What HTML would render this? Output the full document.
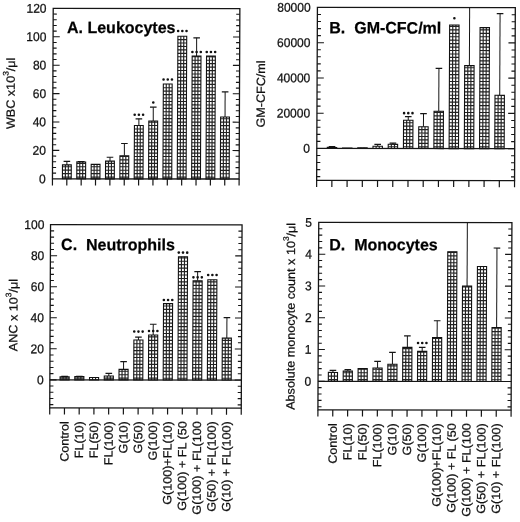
<!DOCTYPE html><html><head><meta charset="utf-8"><style>html,body{margin:0;padding:0;background:#fff;overflow:hidden;}svg{display:block;filter:grayscale(1) blur(0.3px);}text{font-family:"Liberation Sans",sans-serif;stroke:#111;stroke-width:0.25px;}</style></head><body>
<svg width="520" height="522" viewBox="0 0 520 522">
<rect width="520" height="522" fill="#fff"/>
<g transform="matrix(1,0.001,-0.0044,1,1.15,-0.26)">
<g><path d="M66.46 165.08V161.53" stroke="#151515" stroke-width="1"/><path d="M63.16 161.53H69.76" stroke="#151515" stroke-width="1.2"/><rect x="62.05" y="165.08" width="8.81" height="13.92" fill="#fff"/><path d="M80.82 162.1V161.68" stroke="#151515" stroke-width="1"/><path d="M77.52 161.68H84.12" stroke="#151515" stroke-width="1.2"/><rect x="76.41" y="162.1" width="8.81" height="16.9" fill="#fff"/><rect x="90.77" y="164.52" width="8.81" height="14.48" fill="#fff"/><path d="M109.53 161.25V157.42" stroke="#151515" stroke-width="1"/><path d="M106.23 157.42H112.83" stroke="#151515" stroke-width="1.2"/><rect x="105.13" y="161.25" width="8.81" height="17.75" fill="#fff"/><path d="M123.89 155.85V143.64" stroke="#151515" stroke-width="1"/><path d="M120.59 143.64H127.19" stroke="#151515" stroke-width="1.2"/><rect x="119.49" y="155.85" width="8.81" height="23.15" fill="#fff"/><path d="M138.25 125.61V118.93" stroke="#151515" stroke-width="1"/><path d="M134.95 118.93H141.55" stroke="#151515" stroke-width="1.2"/><rect x="133.84" y="125.61" width="8.81" height="53.39" fill="#fff"/><circle cx="134.05" cy="114.9" r="1.3" fill="#111"/><circle cx="138.25" cy="114.9" r="1.3" fill="#111"/><circle cx="142.45" cy="114.9" r="1.3" fill="#111"/><path d="M152.6 121.06V107.29" stroke="#151515" stroke-width="1"/><path d="M149.3 107.29H155.9" stroke="#151515" stroke-width="1.2"/><rect x="148.2" y="121.06" width="8.81" height="57.94" fill="#fff"/><circle cx="152.6" cy="102.6" r="1.3" fill="#111"/><rect x="162.56" y="84.14" width="8.81" height="94.86" fill="#fff"/><circle cx="162.76" cy="79.6" r="1.3" fill="#111"/><circle cx="166.96" cy="79.6" r="1.3" fill="#111"/><circle cx="171.16" cy="79.6" r="1.3" fill="#111"/><rect x="176.92" y="36.29" width="8.81" height="142.71" fill="#fff"/><circle cx="177.12" cy="31.1" r="1.3" fill="#111"/><circle cx="181.32" cy="31.1" r="1.3" fill="#111"/><circle cx="185.52" cy="31.1" r="1.3" fill="#111"/><path d="M195.68 56.17V37.85" stroke="#151515" stroke-width="1"/><path d="M192.38 37.85H198.98" stroke="#151515" stroke-width="1.2"/><rect x="191.27" y="56.17" width="8.81" height="122.83" fill="#fff"/><circle cx="191.48" cy="52.1" r="1.3" fill="#111"/><circle cx="195.68" cy="52.1" r="1.3" fill="#111"/><circle cx="199.88" cy="52.1" r="1.3" fill="#111"/><rect x="205.63" y="56.17" width="8.81" height="122.83" fill="#fff"/><circle cx="205.83" cy="52.1" r="1.3" fill="#111"/><circle cx="210.03" cy="52.1" r="1.3" fill="#111"/><circle cx="214.23" cy="52.1" r="1.3" fill="#111"/><path d="M224.39 117.09V91.95" stroke="#151515" stroke-width="1"/><path d="M221.09 91.95H227.69" stroke="#151515" stroke-width="1.2"/><rect x="219.99" y="117.09" width="8.81" height="61.91" fill="#fff"/><path d="M64.99 165.08V179M67.93 165.08V179M62.05 177.25H70.86M62.05 173.81H70.86M62.05 170.37H70.86M62.05 166.93H70.86M79.35 162.1V179M82.28 162.1V179M76.41 177.25H85.22M76.41 173.81H85.22M76.41 170.37H85.22M76.41 166.93H85.22M76.41 163.49H85.22M93.71 164.52V179M96.64 164.52V179M90.77 177.25H99.58M90.77 173.81H99.58M90.77 170.37H99.58M90.77 166.93H99.58M108.06 161.25V179M111 161.25V179M105.13 177.25H113.93M105.13 173.81H113.93M105.13 170.37H113.93M105.13 166.93H113.93M105.13 163.49H113.93M122.42 155.85V179M125.36 155.85V179M119.49 177.25H128.29M119.49 173.81H128.29M119.49 170.37H128.29M119.49 166.93H128.29M119.49 163.49H128.29M119.49 160.05H128.29M119.49 156.61H128.29M136.78 125.61V179M139.71 125.61V179M133.84 177.25H142.65M133.84 173.81H142.65M133.84 170.37H142.65M133.84 166.93H142.65M133.84 163.49H142.65M133.84 160.05H142.65M133.84 156.61H142.65M133.84 153.17H142.65M133.84 149.73H142.65M133.84 146.29H142.65M133.84 142.85H142.65M133.84 139.41H142.65M133.84 135.97H142.65M133.84 132.53H142.65M133.84 129.09H142.65M151.14 121.06V179M154.07 121.06V179M148.2 177.25H157.01M148.2 173.81H157.01M148.2 170.37H157.01M148.2 166.93H157.01M148.2 163.49H157.01M148.2 160.05H157.01M148.2 156.61H157.01M148.2 153.17H157.01M148.2 149.73H157.01M148.2 146.29H157.01M148.2 142.85H157.01M148.2 139.41H157.01M148.2 135.97H157.01M148.2 132.53H157.01M148.2 129.09H157.01M148.2 125.65H157.01M148.2 122.21H157.01M165.49 84.14V179M168.43 84.14V179M162.56 177.25H171.36M162.56 173.81H171.36M162.56 170.37H171.36M162.56 166.93H171.36M162.56 163.49H171.36M162.56 160.05H171.36M162.56 156.61H171.36M162.56 153.17H171.36M162.56 149.73H171.36M162.56 146.29H171.36M162.56 142.85H171.36M162.56 139.41H171.36M162.56 135.97H171.36M162.56 132.53H171.36M162.56 129.09H171.36M162.56 125.65H171.36M162.56 122.21H171.36M162.56 118.77H171.36M162.56 115.33H171.36M162.56 111.89H171.36M162.56 108.45H171.36M162.56 105.01H171.36M162.56 101.57H171.36M162.56 98.13H171.36M162.56 94.69H171.36M162.56 91.25H171.36M162.56 87.81H171.36M179.85 36.29V179M182.79 36.29V179M176.92 177.25H185.72M176.92 173.81H185.72M176.92 170.37H185.72M176.92 166.93H185.72M176.92 163.49H185.72M176.92 160.05H185.72M176.92 156.61H185.72M176.92 153.17H185.72M176.92 149.73H185.72M176.92 146.29H185.72M176.92 142.85H185.72M176.92 139.41H185.72M176.92 135.97H185.72M176.92 132.53H185.72M176.92 129.09H185.72M176.92 125.65H185.72M176.92 122.21H185.72M176.92 118.77H185.72M176.92 115.33H185.72M176.92 111.89H185.72M176.92 108.45H185.72M176.92 105.01H185.72M176.92 101.57H185.72M176.92 98.13H185.72M176.92 94.69H185.72M176.92 91.25H185.72M176.92 87.81H185.72M176.92 84.37H185.72M176.92 80.93H185.72M176.92 77.49H185.72M176.92 74.05H185.72M176.92 70.61H185.72M176.92 67.17H185.72M176.92 63.73H185.72M176.92 60.29H185.72M176.92 56.85H185.72M176.92 53.41H185.72M176.92 49.97H185.72M176.92 46.53H185.72M176.92 43.09H185.72M176.92 39.65H185.72M194.21 56.17V179M197.14 56.17V179M191.27 177.25H200.08M191.27 173.81H200.08M191.27 170.37H200.08M191.27 166.93H200.08M191.27 163.49H200.08M191.27 160.05H200.08M191.27 156.61H200.08M191.27 153.17H200.08M191.27 149.73H200.08M191.27 146.29H200.08M191.27 142.85H200.08M191.27 139.41H200.08M191.27 135.97H200.08M191.27 132.53H200.08M191.27 129.09H200.08M191.27 125.65H200.08M191.27 122.21H200.08M191.27 118.77H200.08M191.27 115.33H200.08M191.27 111.89H200.08M191.27 108.45H200.08M191.27 105.01H200.08M191.27 101.57H200.08M191.27 98.13H200.08M191.27 94.69H200.08M191.27 91.25H200.08M191.27 87.81H200.08M191.27 84.37H200.08M191.27 80.93H200.08M191.27 77.49H200.08M191.27 74.05H200.08M191.27 70.61H200.08M191.27 67.17H200.08M191.27 63.73H200.08M191.27 60.29H200.08M191.27 56.85H200.08M208.57 56.17V179M211.5 56.17V179M205.63 177.25H214.44M205.63 173.81H214.44M205.63 170.37H214.44M205.63 166.93H214.44M205.63 163.49H214.44M205.63 160.05H214.44M205.63 156.61H214.44M205.63 153.17H214.44M205.63 149.73H214.44M205.63 146.29H214.44M205.63 142.85H214.44M205.63 139.41H214.44M205.63 135.97H214.44M205.63 132.53H214.44M205.63 129.09H214.44M205.63 125.65H214.44M205.63 122.21H214.44M205.63 118.77H214.44M205.63 115.33H214.44M205.63 111.89H214.44M205.63 108.45H214.44M205.63 105.01H214.44M205.63 101.57H214.44M205.63 98.13H214.44M205.63 94.69H214.44M205.63 91.25H214.44M205.63 87.81H214.44M205.63 84.37H214.44M205.63 80.93H214.44M205.63 77.49H214.44M205.63 74.05H214.44M205.63 70.61H214.44M205.63 67.17H214.44M205.63 63.73H214.44M205.63 60.29H214.44M205.63 56.85H214.44M222.92 117.09V179M225.86 117.09V179M219.99 177.25H228.8M219.99 173.81H228.8M219.99 170.37H228.8M219.99 166.93H228.8M219.99 163.49H228.8M219.99 160.05H228.8M219.99 156.61H228.8M219.99 153.17H228.8M219.99 149.73H228.8M219.99 146.29H228.8M219.99 142.85H228.8M219.99 139.41H228.8M219.99 135.97H228.8M219.99 132.53H228.8M219.99 129.09H228.8M219.99 125.65H228.8M219.99 122.21H228.8M219.99 118.77H228.8" stroke="#222" stroke-width="1.15" fill="none"/><rect x="62.05" y="165.08" width="8.81" height="13.92" fill="none" stroke="#111" stroke-width="1.1"/><rect x="76.41" y="162.1" width="8.81" height="16.9" fill="none" stroke="#111" stroke-width="1.1"/><rect x="90.77" y="164.52" width="8.81" height="14.48" fill="none" stroke="#111" stroke-width="1.1"/><rect x="105.13" y="161.25" width="8.81" height="17.75" fill="none" stroke="#111" stroke-width="1.1"/><rect x="119.49" y="155.85" width="8.81" height="23.15" fill="none" stroke="#111" stroke-width="1.1"/><rect x="133.84" y="125.61" width="8.81" height="53.39" fill="none" stroke="#111" stroke-width="1.1"/><rect x="148.2" y="121.06" width="8.81" height="57.94" fill="none" stroke="#111" stroke-width="1.1"/><rect x="162.56" y="84.14" width="8.81" height="94.86" fill="none" stroke="#111" stroke-width="1.1"/><rect x="176.92" y="36.29" width="8.81" height="142.71" fill="none" stroke="#111" stroke-width="1.1"/><rect x="191.27" y="56.17" width="8.81" height="122.83" fill="none" stroke="#111" stroke-width="1.1"/><rect x="205.63" y="56.17" width="8.81" height="122.83" fill="none" stroke="#111" stroke-width="1.1"/><rect x="219.99" y="117.09" width="8.81" height="61.91" fill="none" stroke="#111" stroke-width="1.1"/><rect x="52.1" y="8.6" width="186.65" height="170.4" fill="none" stroke="#151515" stroke-width="1.3"/><path d="M52.1 179V185.6M66.46 179V185.6M80.82 179V185.6M95.17 179V185.6M109.53 179V185.6M123.89 179V185.6M138.25 179V185.6M152.6 179V185.6M166.96 179V185.6M181.32 179V185.6M195.68 179V185.6M210.03 179V185.6M224.39 179V185.6M238.75 179V185.6M238.75 179V185.6" stroke="#151515" stroke-width="1.2"/><path d="M52.1 173.32H55.7M238.75 173.32H235.15M52.1 167.64H55.7M238.75 167.64H235.15M52.1 161.96H55.7M238.75 161.96H235.15M52.1 156.28H55.7M238.75 156.28H235.15M52.1 150.6H58.8M238.75 150.6H232.05M52.1 144.92H55.7M238.75 144.92H235.15M52.1 139.24H55.7M238.75 139.24H235.15M52.1 133.56H55.7M238.75 133.56H235.15M52.1 127.88H55.7M238.75 127.88H235.15M52.1 122.2H58.8M238.75 122.2H232.05M52.1 116.52H55.7M238.75 116.52H235.15M52.1 110.84H55.7M238.75 110.84H235.15M52.1 105.16H55.7M238.75 105.16H235.15M52.1 99.48H55.7M238.75 99.48H235.15M52.1 93.8H58.8M238.75 93.8H232.05M52.1 88.12H55.7M238.75 88.12H235.15M52.1 82.44H55.7M238.75 82.44H235.15M52.1 76.76H55.7M238.75 76.76H235.15M52.1 71.08H55.7M238.75 71.08H235.15M52.1 65.4H58.8M238.75 65.4H232.05M52.1 59.72H55.7M238.75 59.72H235.15M52.1 54.04H55.7M238.75 54.04H235.15M52.1 48.36H55.7M238.75 48.36H235.15M52.1 42.68H55.7M238.75 42.68H235.15M52.1 37H58.8M238.75 37H232.05M52.1 31.32H55.7M238.75 31.32H235.15M52.1 25.64H55.7M238.75 25.64H235.15M52.1 19.96H55.7M238.75 19.96H235.15M52.1 14.28H55.7M238.75 14.28H235.15" stroke="#151515" stroke-width="1.1"/><text transform="translate(45.4,183.35) scale(1,1.05)" text-anchor="end" font-size="12" fill="#111">0</text><text transform="translate(45.4,154.95) scale(1,1.05)" text-anchor="end" font-size="12" fill="#111">20</text><text transform="translate(45.4,126.55) scale(1,1.05)" text-anchor="end" font-size="12" fill="#111">40</text><text transform="translate(45.4,98.15) scale(1,1.05)" text-anchor="end" font-size="12" fill="#111">60</text><text transform="translate(45.4,69.75) scale(1,1.05)" text-anchor="end" font-size="12" fill="#111">80</text><text transform="translate(45.4,41.35) scale(1,1.05)" text-anchor="end" font-size="12" fill="#111">100</text><text transform="translate(45.4,12.95) scale(1,1.05)" text-anchor="end" font-size="12" fill="#111">120</text><text transform="translate(66,33.09) scale(1,1.02)" font-size="16" font-weight="bold" fill="#000" stroke="none" xml:space="preserve">A. Leukocytes</text><text transform="translate(14.06,93.6) rotate(-90) scale(1.05,1)" text-anchor="middle" font-size="12" fill="#111">WBC x10<tspan font-size="8" dy="-6.3">3</tspan><tspan dy="6.3">/μl</tspan></text></g>
<g><path d="M331.52 147.35V146.65" stroke="#151515" stroke-width="1"/><path d="M328.22 146.65H334.82" stroke="#151515" stroke-width="1.2"/><rect x="326.82" y="147.35" width="9.4" height="1.05" fill="#fff"/><rect x="342.04" y="148.05" width="9.4" height="0.35" fill="#fff"/><rect x="357.27" y="147.7" width="9.4" height="0.7" fill="#fff"/><path d="M377.19 146.12V144.19" stroke="#151515" stroke-width="1"/><path d="M373.89 144.19H380.49" stroke="#151515" stroke-width="1.2"/><rect x="372.49" y="146.12" width="9.4" height="2.28" fill="#fff"/><path d="M392.42 144.19V142.96" stroke="#151515" stroke-width="1"/><path d="M389.12 142.96H395.72" stroke="#151515" stroke-width="1.2"/><rect x="387.71" y="144.19" width="9.4" height="4.21" fill="#fff"/><path d="M407.64 120.17V116.48" stroke="#151515" stroke-width="1"/><path d="M404.34 116.48H410.94" stroke="#151515" stroke-width="1.2"/><rect x="402.94" y="120.17" width="9.4" height="28.23" fill="#fff"/><circle cx="403.44" cy="113" r="1.3" fill="#111"/><circle cx="407.64" cy="113" r="1.3" fill="#111"/><circle cx="411.84" cy="113" r="1.3" fill="#111"/><path d="M422.86 126.65V113.5" stroke="#151515" stroke-width="1"/><path d="M419.56 113.5H426.16" stroke="#151515" stroke-width="1.2"/><rect x="418.16" y="126.65" width="9.4" height="21.75" fill="#fff"/><path d="M438.08 111.05V68.26" stroke="#151515" stroke-width="1"/><path d="M434.78 68.26H441.38" stroke="#151515" stroke-width="1.2"/><rect x="433.38" y="111.05" width="9.4" height="37.35" fill="#fff"/><rect x="448.61" y="24.77" width="9.4" height="123.63" fill="#fff"/><circle cx="453.31" cy="18" r="1.3" fill="#111"/><path d="M468.53 65.45V7.4" stroke="#151515" stroke-width="1"/><rect x="463.83" y="65.45" width="9.4" height="82.95" fill="#fff"/><rect x="479.05" y="27.4" width="9.4" height="121" fill="#fff"/><path d="M498.98 95.09V13.37" stroke="#151515" stroke-width="1"/><path d="M495.68 13.37H502.28" stroke="#151515" stroke-width="1.2"/><rect x="494.27" y="95.09" width="9.4" height="53.31" fill="#fff"/><path d="M329.96 147.35V148.4M333.09 147.35V148.4M345.18 148.05V148.4M348.31 148.05V148.4M360.4 147.7V148.4M363.54 147.7V148.4M375.62 146.12V148.4M378.76 146.12V148.4M390.85 144.19V148.4M393.98 144.19V148.4M387.71 146.65H397.12M406.07 120.17V148.4M409.21 120.17V148.4M402.94 146.65H412.34M402.94 143.21H412.34M402.94 139.77H412.34M402.94 136.33H412.34M402.94 132.89H412.34M402.94 129.45H412.34M402.94 126.01H412.34M402.94 122.57H412.34M421.29 126.65V148.4M424.43 126.65V148.4M418.16 146.65H427.56M418.16 143.21H427.56M418.16 139.77H427.56M418.16 136.33H427.56M418.16 132.89H427.56M418.16 129.45H427.56M436.52 111.05V148.4M439.65 111.05V148.4M433.38 146.65H442.79M433.38 143.21H442.79M433.38 139.77H442.79M433.38 136.33H442.79M433.38 132.89H442.79M433.38 129.45H442.79M433.38 126.01H442.79M433.38 122.57H442.79M433.38 119.13H442.79M433.38 115.69H442.79M433.38 112.25H442.79M451.74 24.77V148.4M454.88 24.77V148.4M448.61 146.65H458.01M448.61 143.21H458.01M448.61 139.77H458.01M448.61 136.33H458.01M448.61 132.89H458.01M448.61 129.45H458.01M448.61 126.01H458.01M448.61 122.57H458.01M448.61 119.13H458.01M448.61 115.69H458.01M448.61 112.25H458.01M448.61 108.81H458.01M448.61 105.37H458.01M448.61 101.93H458.01M448.61 98.49H458.01M448.61 95.05H458.01M448.61 91.61H458.01M448.61 88.17H458.01M448.61 84.73H458.01M448.61 81.29H458.01M448.61 77.85H458.01M448.61 74.41H458.01M448.61 70.97H458.01M448.61 67.53H458.01M448.61 64.09H458.01M448.61 60.65H458.01M448.61 57.21H458.01M448.61 53.77H458.01M448.61 50.33H458.01M448.61 46.89H458.01M448.61 43.45H458.01M448.61 40.01H458.01M448.61 36.57H458.01M448.61 33.13H458.01M448.61 29.69H458.01M448.61 26.25H458.01M466.96 65.45V148.4M470.1 65.45V148.4M463.83 146.65H473.23M463.83 143.21H473.23M463.83 139.77H473.23M463.83 136.33H473.23M463.83 132.89H473.23M463.83 129.45H473.23M463.83 126.01H473.23M463.83 122.57H473.23M463.83 119.13H473.23M463.83 115.69H473.23M463.83 112.25H473.23M463.83 108.81H473.23M463.83 105.37H473.23M463.83 101.93H473.23M463.83 98.49H473.23M463.83 95.05H473.23M463.83 91.61H473.23M463.83 88.17H473.23M463.83 84.73H473.23M463.83 81.29H473.23M463.83 77.85H473.23M463.83 74.41H473.23M463.83 70.97H473.23M463.83 67.53H473.23M482.19 27.4V148.4M485.32 27.4V148.4M479.05 146.65H488.46M479.05 143.21H488.46M479.05 139.77H488.46M479.05 136.33H488.46M479.05 132.89H488.46M479.05 129.45H488.46M479.05 126.01H488.46M479.05 122.57H488.46M479.05 119.13H488.46M479.05 115.69H488.46M479.05 112.25H488.46M479.05 108.81H488.46M479.05 105.37H488.46M479.05 101.93H488.46M479.05 98.49H488.46M479.05 95.05H488.46M479.05 91.61H488.46M479.05 88.17H488.46M479.05 84.73H488.46M479.05 81.29H488.46M479.05 77.85H488.46M479.05 74.41H488.46M479.05 70.97H488.46M479.05 67.53H488.46M479.05 64.09H488.46M479.05 60.65H488.46M479.05 57.21H488.46M479.05 53.77H488.46M479.05 50.33H488.46M479.05 46.89H488.46M479.05 43.45H488.46M479.05 40.01H488.46M479.05 36.57H488.46M479.05 33.13H488.46M479.05 29.69H488.46M497.41 95.09V148.4M500.54 95.09V148.4M494.27 146.65H503.68M494.27 143.21H503.68M494.27 139.77H503.68M494.27 136.33H503.68M494.27 132.89H503.68M494.27 129.45H503.68M494.27 126.01H503.68M494.27 122.57H503.68M494.27 119.13H503.68M494.27 115.69H503.68M494.27 112.25H503.68M494.27 108.81H503.68M494.27 105.37H503.68M494.27 101.93H503.68M494.27 98.49H503.68" stroke="#222" stroke-width="1.15" fill="none"/><rect x="326.82" y="147.35" width="9.4" height="1.05" fill="none" stroke="#111" stroke-width="1.1"/><rect x="342.04" y="148.05" width="9.4" height="0.35" fill="none" stroke="#111" stroke-width="1.1"/><rect x="357.27" y="147.7" width="9.4" height="0.7" fill="none" stroke="#111" stroke-width="1.1"/><rect x="372.49" y="146.12" width="9.4" height="2.28" fill="none" stroke="#111" stroke-width="1.1"/><rect x="387.71" y="144.19" width="9.4" height="4.21" fill="none" stroke="#111" stroke-width="1.1"/><rect x="402.94" y="120.17" width="9.4" height="28.23" fill="none" stroke="#111" stroke-width="1.1"/><rect x="418.16" y="126.65" width="9.4" height="21.75" fill="none" stroke="#111" stroke-width="1.1"/><rect x="433.38" y="111.05" width="9.4" height="37.35" fill="none" stroke="#111" stroke-width="1.1"/><rect x="448.61" y="24.77" width="9.4" height="123.63" fill="none" stroke="#111" stroke-width="1.1"/><rect x="463.83" y="65.45" width="9.4" height="82.95" fill="none" stroke="#111" stroke-width="1.1"/><rect x="479.05" y="27.4" width="9.4" height="121" fill="none" stroke="#111" stroke-width="1.1"/><rect x="494.27" y="95.09" width="9.4" height="53.31" fill="none" stroke="#111" stroke-width="1.1"/><rect x="316.3" y="7.4" width="197.9" height="172.9" fill="none" stroke="#151515" stroke-width="1.3"/><path d="M316.3 148.4H514.2" stroke="#151515" stroke-width="1.2"/><path d="M316.3 180.3V186.9M331.52 180.3V186.9M346.75 180.3V186.9M361.97 180.3V186.9M377.19 180.3V186.9M392.42 180.3V186.9M407.64 180.3V186.9M422.86 180.3V186.9M438.08 180.3V186.9M453.31 180.3V186.9M468.53 180.3V186.9M483.75 180.3V186.9M498.98 180.3V186.9M514.2 180.3V186.9M514.2 180.3V186.9" stroke="#151515" stroke-width="1.2"/><path d="M316.3 176.6H319.9M514.2 176.6H510.6M316.3 169.55H319.9M514.2 169.55H510.6M316.3 162.5H319.9M514.2 162.5H510.6M316.3 155.45H319.9M514.2 155.45H510.6M316.3 148.4H323M514.2 148.4H507.5M316.3 141.35H319.9M514.2 141.35H510.6M316.3 134.3H319.9M514.2 134.3H510.6M316.3 127.25H319.9M514.2 127.25H510.6M316.3 120.2H319.9M514.2 120.2H510.6M316.3 113.15H323M514.2 113.15H507.5M316.3 106.1H319.9M514.2 106.1H510.6M316.3 99.05H319.9M514.2 99.05H510.6M316.3 92H319.9M514.2 92H510.6M316.3 84.95H319.9M514.2 84.95H510.6M316.3 77.9H323M514.2 77.9H507.5M316.3 70.85H319.9M514.2 70.85H510.6M316.3 63.8H319.9M514.2 63.8H510.6M316.3 56.75H319.9M514.2 56.75H510.6M316.3 49.7H319.9M514.2 49.7H510.6M316.3 42.65H323M514.2 42.65H507.5M316.3 35.6H319.9M514.2 35.6H510.6M316.3 28.55H319.9M514.2 28.55H510.6M316.3 21.5H319.9M514.2 21.5H510.6M316.3 14.45H319.9M514.2 14.45H510.6" stroke="#151515" stroke-width="1.1"/><text transform="translate(309.5,152.75) scale(1,1.05)" text-anchor="end" font-size="12" fill="#111">0</text><text transform="translate(309.5,117.5) scale(1,1.05)" text-anchor="end" font-size="12" fill="#111">20000</text><text transform="translate(309.5,82.25) scale(1,1.05)" text-anchor="end" font-size="12" fill="#111">40000</text><text transform="translate(309.5,47) scale(1,1.05)" text-anchor="end" font-size="12" fill="#111">60000</text><text transform="translate(309.5,11.75) scale(1,1.05)" text-anchor="end" font-size="12" fill="#111">80000</text><text transform="translate(328.3,33.23) scale(1,1.02)" font-size="16" font-weight="bold" fill="#000" stroke="none" xml:space="preserve">B.  GM-CFC/ml</text><text transform="translate(264.16,93.95) rotate(-90) scale(1.05,1)" text-anchor="middle" font-size="12" fill="#111">GM-CFC/ml</text></g>
<g><path d="M65.11 377.1V376.48" stroke="#151515" stroke-width="1"/><path d="M61.81 376.48H68.41" stroke="#151515" stroke-width="1.2"/><rect x="60.58" y="377.1" width="9.07" height="2.95" fill="#fff"/><path d="M79.84 376.79V376.48" stroke="#151515" stroke-width="1"/><path d="M76.54 376.48H83.14" stroke="#151515" stroke-width="1.2"/><rect x="75.31" y="376.79" width="9.07" height="3.26" fill="#fff"/><rect x="90.04" y="377.72" width="9.07" height="2.33" fill="#fff"/><path d="M109.31 376.17V373.53" stroke="#151515" stroke-width="1"/><path d="M106.01 373.53H112.61" stroke="#151515" stroke-width="1.2"/><rect x="104.78" y="376.17" width="9.07" height="3.88" fill="#fff"/><path d="M124.04 369.5V361.74" stroke="#151515" stroke-width="1"/><path d="M120.74 361.74H127.34" stroke="#151515" stroke-width="1.2"/><rect x="119.51" y="369.5" width="9.07" height="10.55" fill="#fff"/><path d="M138.77 340.18V337.23" stroke="#151515" stroke-width="1"/><path d="M135.47 337.23H142.07" stroke="#151515" stroke-width="1.2"/><rect x="134.24" y="340.18" width="9.07" height="39.87" fill="#fff"/><circle cx="134.57" cy="331.7" r="1.3" fill="#111"/><circle cx="138.77" cy="331.7" r="1.3" fill="#111"/><circle cx="142.97" cy="331.7" r="1.3" fill="#111"/><path d="M153.51 335.06V324.35" stroke="#151515" stroke-width="1"/><path d="M150.21 324.35H156.81" stroke="#151515" stroke-width="1.2"/><rect x="148.97" y="335.06" width="9.07" height="44.99" fill="#fff"/><circle cx="149.31" cy="331.1" r="1.3" fill="#111"/><circle cx="153.51" cy="331.1" r="1.3" fill="#111"/><circle cx="157.71" cy="331.1" r="1.3" fill="#111"/><rect x="163.71" y="303.72" width="9.07" height="76.33" fill="#fff"/><circle cx="164.04" cy="300.1" r="1.3" fill="#111"/><circle cx="168.24" cy="300.1" r="1.3" fill="#111"/><circle cx="172.44" cy="300.1" r="1.3" fill="#111"/><rect x="178.44" y="256.86" width="9.07" height="123.19" fill="#fff"/><circle cx="178.77" cy="252.7" r="1.3" fill="#111"/><circle cx="182.97" cy="252.7" r="1.3" fill="#111"/><circle cx="187.17" cy="252.7" r="1.3" fill="#111"/><path d="M197.7 280.91V271.6" stroke="#151515" stroke-width="1"/><path d="M194.4 271.6H201" stroke="#151515" stroke-width="1.2"/><rect x="193.17" y="280.91" width="9.07" height="99.14" fill="#fff"/><circle cx="193.5" cy="277.4" r="1.3" fill="#111"/><circle cx="197.7" cy="277.4" r="1.3" fill="#111"/><circle cx="201.9" cy="277.4" r="1.3" fill="#111"/><rect x="207.9" y="279.82" width="9.07" height="100.23" fill="#fff"/><circle cx="208.24" cy="275" r="1.3" fill="#111"/><circle cx="212.44" cy="275" r="1.3" fill="#111"/><circle cx="216.64" cy="275" r="1.3" fill="#111"/><path d="M227.17 338.16V317.68" stroke="#151515" stroke-width="1"/><path d="M223.87 317.68H230.47" stroke="#151515" stroke-width="1.2"/><rect x="222.64" y="338.16" width="9.07" height="41.89" fill="#fff"/><path d="M63.6 377.1V380.05M66.62 377.1V380.05M60.58 378.3H69.64M78.33 376.79V380.05M81.36 376.79V380.05M75.31 378.3H84.38M93.07 377.72V380.05M96.09 377.72V380.05M107.8 376.17V380.05M110.82 376.17V380.05M104.78 378.3H113.84M122.53 369.5V380.05M125.55 369.5V380.05M119.51 378.3H128.57M119.51 374.86H128.57M119.51 371.42H128.57M137.26 340.18V380.05M140.28 340.18V380.05M134.24 378.3H143.31M134.24 374.86H143.31M134.24 371.42H143.31M134.24 367.98H143.31M134.24 364.54H143.31M134.24 361.1H143.31M134.24 357.66H143.31M134.24 354.22H143.31M134.24 350.78H143.31M134.24 347.34H143.31M134.24 343.9H143.31M152 335.06V380.05M155.02 335.06V380.05M148.97 378.3H158.04M148.97 374.86H158.04M148.97 371.42H158.04M148.97 367.98H158.04M148.97 364.54H158.04M148.97 361.1H158.04M148.97 357.66H158.04M148.97 354.22H158.04M148.97 350.78H158.04M148.97 347.34H158.04M148.97 343.9H158.04M148.97 340.46H158.04M148.97 337.02H158.04M166.73 303.72V380.05M169.75 303.72V380.05M163.71 378.3H172.77M163.71 374.86H172.77M163.71 371.42H172.77M163.71 367.98H172.77M163.71 364.54H172.77M163.71 361.1H172.77M163.71 357.66H172.77M163.71 354.22H172.77M163.71 350.78H172.77M163.71 347.34H172.77M163.71 343.9H172.77M163.71 340.46H172.77M163.71 337.02H172.77M163.71 333.58H172.77M163.71 330.14H172.77M163.71 326.7H172.77M163.71 323.26H172.77M163.71 319.82H172.77M163.71 316.38H172.77M163.71 312.94H172.77M163.71 309.5H172.77M163.71 306.06H172.77M181.46 256.86V380.05M184.48 256.86V380.05M178.44 378.3H187.5M178.44 374.86H187.5M178.44 371.42H187.5M178.44 367.98H187.5M178.44 364.54H187.5M178.44 361.1H187.5M178.44 357.66H187.5M178.44 354.22H187.5M178.44 350.78H187.5M178.44 347.34H187.5M178.44 343.9H187.5M178.44 340.46H187.5M178.44 337.02H187.5M178.44 333.58H187.5M178.44 330.14H187.5M178.44 326.7H187.5M178.44 323.26H187.5M178.44 319.82H187.5M178.44 316.38H187.5M178.44 312.94H187.5M178.44 309.5H187.5M178.44 306.06H187.5M178.44 302.62H187.5M178.44 299.18H187.5M178.44 295.74H187.5M178.44 292.3H187.5M178.44 288.86H187.5M178.44 285.42H187.5M178.44 281.98H187.5M178.44 278.54H187.5M178.44 275.1H187.5M178.44 271.66H187.5M178.44 268.22H187.5M178.44 264.78H187.5M178.44 261.34H187.5M178.44 257.9H187.5M196.19 280.91V380.05M199.21 280.91V380.05M193.17 378.3H202.24M193.17 374.86H202.24M193.17 371.42H202.24M193.17 367.98H202.24M193.17 364.54H202.24M193.17 361.1H202.24M193.17 357.66H202.24M193.17 354.22H202.24M193.17 350.78H202.24M193.17 347.34H202.24M193.17 343.9H202.24M193.17 340.46H202.24M193.17 337.02H202.24M193.17 333.58H202.24M193.17 330.14H202.24M193.17 326.7H202.24M193.17 323.26H202.24M193.17 319.82H202.24M193.17 316.38H202.24M193.17 312.94H202.24M193.17 309.5H202.24M193.17 306.06H202.24M193.17 302.62H202.24M193.17 299.18H202.24M193.17 295.74H202.24M193.17 292.3H202.24M193.17 288.86H202.24M193.17 285.42H202.24M193.17 281.98H202.24M210.92 279.82V380.05M213.95 279.82V380.05M207.9 378.3H216.97M207.9 374.86H216.97M207.9 371.42H216.97M207.9 367.98H216.97M207.9 364.54H216.97M207.9 361.1H216.97M207.9 357.66H216.97M207.9 354.22H216.97M207.9 350.78H216.97M207.9 347.34H216.97M207.9 343.9H216.97M207.9 340.46H216.97M207.9 337.02H216.97M207.9 333.58H216.97M207.9 330.14H216.97M207.9 326.7H216.97M207.9 323.26H216.97M207.9 319.82H216.97M207.9 316.38H216.97M207.9 312.94H216.97M207.9 309.5H216.97M207.9 306.06H216.97M207.9 302.62H216.97M207.9 299.18H216.97M207.9 295.74H216.97M207.9 292.3H216.97M207.9 288.86H216.97M207.9 285.42H216.97M207.9 281.98H216.97M225.66 338.16V380.05M228.68 338.16V380.05M222.64 378.3H231.7M222.64 374.86H231.7M222.64 371.42H231.7M222.64 367.98H231.7M222.64 364.54H231.7M222.64 361.1H231.7M222.64 357.66H231.7M222.64 354.22H231.7M222.64 350.78H231.7M222.64 347.34H231.7M222.64 343.9H231.7M222.64 340.46H231.7" stroke="#222" stroke-width="1.15" fill="none"/><rect x="60.58" y="377.1" width="9.07" height="2.95" fill="none" stroke="#111" stroke-width="1.1"/><rect x="75.31" y="376.79" width="9.07" height="3.26" fill="none" stroke="#111" stroke-width="1.1"/><rect x="90.04" y="377.72" width="9.07" height="2.33" fill="none" stroke="#111" stroke-width="1.1"/><rect x="104.78" y="376.17" width="9.07" height="3.88" fill="none" stroke="#111" stroke-width="1.1"/><rect x="119.51" y="369.5" width="9.07" height="10.55" fill="none" stroke="#111" stroke-width="1.1"/><rect x="134.24" y="340.18" width="9.07" height="39.87" fill="none" stroke="#111" stroke-width="1.1"/><rect x="148.97" y="335.06" width="9.07" height="44.99" fill="none" stroke="#111" stroke-width="1.1"/><rect x="163.71" y="303.72" width="9.07" height="76.33" fill="none" stroke="#111" stroke-width="1.1"/><rect x="178.44" y="256.86" width="9.07" height="123.19" fill="none" stroke="#111" stroke-width="1.1"/><rect x="193.17" y="280.91" width="9.07" height="99.14" fill="none" stroke="#111" stroke-width="1.1"/><rect x="207.9" y="279.82" width="9.07" height="100.23" fill="none" stroke="#111" stroke-width="1.1"/><rect x="222.64" y="338.16" width="9.07" height="41.89" fill="none" stroke="#111" stroke-width="1.1"/><rect x="50.38" y="224.9" width="191.52" height="183.2" fill="none" stroke="#151515" stroke-width="1.3"/><path d="M50.38 380.05H241.9" stroke="#151515" stroke-width="1.2"/><path d="M50.38 408.1V414.7M65.11 408.1V414.7M79.84 408.1V414.7M94.58 408.1V414.7M109.31 408.1V414.7M124.04 408.1V414.7M138.77 408.1V414.7M153.51 408.1V414.7M168.24 408.1V414.7M182.97 408.1V414.7M197.7 408.1V414.7M212.44 408.1V414.7M227.17 408.1V414.7M241.9 408.1V414.7M241.9 408.1V414.7" stroke="#151515" stroke-width="1.2"/><path d="M50.38 404.87H53.98M241.9 404.87H238.3M50.38 398.67H53.98M241.9 398.67H238.3M50.38 392.46H53.98M241.9 392.46H238.3M50.38 386.26H53.98M241.9 386.26H238.3M50.38 380.05H57.08M241.9 380.05H235.2M50.38 373.84H53.98M241.9 373.84H238.3M50.38 367.64H53.98M241.9 367.64H238.3M50.38 361.43H53.98M241.9 361.43H238.3M50.38 355.23H53.98M241.9 355.23H238.3M50.38 349.02H57.08M241.9 349.02H235.2M50.38 342.81H53.98M241.9 342.81H238.3M50.38 336.61H53.98M241.9 336.61H238.3M50.38 330.4H53.98M241.9 330.4H238.3M50.38 324.2H53.98M241.9 324.2H238.3M50.38 317.99H57.08M241.9 317.99H235.2M50.38 311.78H53.98M241.9 311.78H238.3M50.38 305.58H53.98M241.9 305.58H238.3M50.38 299.37H53.98M241.9 299.37H238.3M50.38 293.17H53.98M241.9 293.17H238.3M50.38 286.96H57.08M241.9 286.96H235.2M50.38 280.75H53.98M241.9 280.75H238.3M50.38 274.55H53.98M241.9 274.55H238.3M50.38 268.34H53.98M241.9 268.34H238.3M50.38 262.14H53.98M241.9 262.14H238.3M50.38 255.93H57.08M241.9 255.93H235.2M50.38 249.72H53.98M241.9 249.72H238.3M50.38 243.52H53.98M241.9 243.52H238.3M50.38 237.31H53.98M241.9 237.31H238.3M50.38 231.11H53.98M241.9 231.11H238.3" stroke="#151515" stroke-width="1.1"/><text transform="translate(44.24,384.4) scale(1,1.05)" text-anchor="end" font-size="12" fill="#111">0</text><text transform="translate(44.24,353.37) scale(1,1.05)" text-anchor="end" font-size="12" fill="#111">20</text><text transform="translate(44.24,322.34) scale(1,1.05)" text-anchor="end" font-size="12" fill="#111">40</text><text transform="translate(44.24,291.31) scale(1,1.05)" text-anchor="end" font-size="12" fill="#111">60</text><text transform="translate(44.24,260.28) scale(1,1.05)" text-anchor="end" font-size="12" fill="#111">80</text><text transform="translate(44.24,229.25) scale(1,1.05)" text-anchor="end" font-size="12" fill="#111">100</text><text transform="translate(61.05,250.3) scale(1,1.02)" font-size="16" font-weight="bold" fill="#000" stroke="none" xml:space="preserve">C.  Neutrophils</text><text transform="translate(17.64,315.34) rotate(-90) scale(1.05,1)" text-anchor="middle" font-size="12" fill="#111">ANC x 10<tspan font-size="8" dy="-6.3">3</tspan><tspan dy="6.3">/μl</tspan></text></g>
<g><path d="M333.43 372.35V370.29" stroke="#151515" stroke-width="1"/><path d="M330.13 370.29H336.73" stroke="#151515" stroke-width="1.2"/><rect x="328.85" y="372.35" width="9.15" height="8.9" fill="#fff"/><path d="M348.29 371.08V369.62" stroke="#151515" stroke-width="1"/><path d="M344.99 369.62H351.59" stroke="#151515" stroke-width="1.2"/><rect x="343.71" y="371.08" width="9.15" height="10.17" fill="#fff"/><rect x="358.58" y="368.54" width="9.15" height="12.71" fill="#fff"/><path d="M378.01 367.9V361.23" stroke="#151515" stroke-width="1"/><path d="M374.71 361.23H381.31" stroke="#151515" stroke-width="1.2"/><rect x="373.44" y="367.9" width="9.15" height="13.35" fill="#fff"/><path d="M392.87 364.09V352.33" stroke="#151515" stroke-width="1"/><path d="M389.57 352.33H396.17" stroke="#151515" stroke-width="1.2"/><rect x="388.3" y="364.09" width="9.15" height="17.16" fill="#fff"/><path d="M407.73 347.25V335.81" stroke="#151515" stroke-width="1"/><path d="M404.43 335.81H411.03" stroke="#151515" stroke-width="1.2"/><rect x="403.16" y="347.25" width="9.15" height="34" fill="#fff"/><path d="M422.6 351.22V347.25" stroke="#151515" stroke-width="1"/><path d="M419.3 347.25H425.9" stroke="#151515" stroke-width="1.2"/><rect x="418.02" y="351.22" width="9.15" height="30.03" fill="#fff"/><circle cx="418.4" cy="342.8" r="1.3" fill="#111"/><circle cx="422.6" cy="342.8" r="1.3" fill="#111"/><circle cx="426.8" cy="342.8" r="1.3" fill="#111"/><path d="M437.46 337.4V320.56" stroke="#151515" stroke-width="1"/><path d="M434.16 320.56H440.76" stroke="#151515" stroke-width="1.2"/><rect x="432.88" y="337.4" width="9.15" height="43.85" fill="#fff"/><rect x="447.74" y="251.6" width="9.15" height="129.65" fill="#fff"/><path d="M467.18 285.92V222.37" stroke="#151515" stroke-width="1"/><rect x="462.6" y="285.92" width="9.15" height="95.33" fill="#fff"/><rect x="477.46" y="266.22" width="9.15" height="115.03" fill="#fff"/><path d="M496.9 327.23V247.79" stroke="#151515" stroke-width="1"/><path d="M493.6 247.79H500.2" stroke="#151515" stroke-width="1.2"/><rect x="492.32" y="327.23" width="9.15" height="54.02" fill="#fff"/><path d="M331.91 372.35V381.25M334.96 372.35V381.25M328.85 379.5H338.01M328.85 376.06H338.01M346.77 371.08V381.25M349.82 371.08V381.25M343.71 379.5H352.87M343.71 376.06H352.87M343.71 372.62H352.87M361.63 368.54V381.25M364.68 368.54V381.25M358.58 379.5H367.73M358.58 376.06H367.73M358.58 372.62H367.73M358.58 369.18H367.73M376.49 367.9V381.25M379.54 367.9V381.25M373.44 379.5H382.59M373.44 376.06H382.59M373.44 372.62H382.59M373.44 369.18H382.59M391.35 364.09V381.25M394.4 364.09V381.25M388.3 379.5H397.45M388.3 376.06H397.45M388.3 372.62H397.45M388.3 369.18H397.45M388.3 365.74H397.45M406.21 347.25V381.25M409.26 347.25V381.25M403.16 379.5H412.31M403.16 376.06H412.31M403.16 372.62H412.31M403.16 369.18H412.31M403.16 365.74H412.31M403.16 362.3H412.31M403.16 358.86H412.31M403.16 355.42H412.31M403.16 351.98H412.31M403.16 348.54H412.31M421.07 351.22V381.25M424.12 351.22V381.25M418.02 379.5H427.17M418.02 376.06H427.17M418.02 372.62H427.17M418.02 369.18H427.17M418.02 365.74H427.17M418.02 362.3H427.17M418.02 358.86H427.17M418.02 355.42H427.17M418.02 351.98H427.17M435.93 337.4V381.25M438.98 337.4V381.25M432.88 379.5H442.03M432.88 376.06H442.03M432.88 372.62H442.03M432.88 369.18H442.03M432.88 365.74H442.03M432.88 362.3H442.03M432.88 358.86H442.03M432.88 355.42H442.03M432.88 351.98H442.03M432.88 348.54H442.03M432.88 345.1H442.03M432.88 341.66H442.03M432.88 338.22H442.03M450.79 251.6V381.25M453.84 251.6V381.25M447.74 379.5H456.89M447.74 376.06H456.89M447.74 372.62H456.89M447.74 369.18H456.89M447.74 365.74H456.89M447.74 362.3H456.89M447.74 358.86H456.89M447.74 355.42H456.89M447.74 351.98H456.89M447.74 348.54H456.89M447.74 345.1H456.89M447.74 341.66H456.89M447.74 338.22H456.89M447.74 334.78H456.89M447.74 331.34H456.89M447.74 327.9H456.89M447.74 324.46H456.89M447.74 321.02H456.89M447.74 317.58H456.89M447.74 314.14H456.89M447.74 310.7H456.89M447.74 307.26H456.89M447.74 303.82H456.89M447.74 300.38H456.89M447.74 296.94H456.89M447.74 293.5H456.89M447.74 290.06H456.89M447.74 286.62H456.89M447.74 283.18H456.89M447.74 279.74H456.89M447.74 276.3H456.89M447.74 272.86H456.89M447.74 269.42H456.89M447.74 265.98H456.89M447.74 262.54H456.89M447.74 259.1H456.89M447.74 255.66H456.89M447.74 252.22H456.89M465.65 285.92V381.25M468.7 285.92V381.25M462.6 379.5H471.75M462.6 376.06H471.75M462.6 372.62H471.75M462.6 369.18H471.75M462.6 365.74H471.75M462.6 362.3H471.75M462.6 358.86H471.75M462.6 355.42H471.75M462.6 351.98H471.75M462.6 348.54H471.75M462.6 345.1H471.75M462.6 341.66H471.75M462.6 338.22H471.75M462.6 334.78H471.75M462.6 331.34H471.75M462.6 327.9H471.75M462.6 324.46H471.75M462.6 321.02H471.75M462.6 317.58H471.75M462.6 314.14H471.75M462.6 310.7H471.75M462.6 307.26H471.75M462.6 303.82H471.75M462.6 300.38H471.75M462.6 296.94H471.75M462.6 293.5H471.75M462.6 290.06H471.75M462.6 286.62H471.75M480.51 266.22V381.25M483.56 266.22V381.25M477.46 379.5H486.62M477.46 376.06H486.62M477.46 372.62H486.62M477.46 369.18H486.62M477.46 365.74H486.62M477.46 362.3H486.62M477.46 358.86H486.62M477.46 355.42H486.62M477.46 351.98H486.62M477.46 348.54H486.62M477.46 345.1H486.62M477.46 341.66H486.62M477.46 338.22H486.62M477.46 334.78H486.62M477.46 331.34H486.62M477.46 327.9H486.62M477.46 324.46H486.62M477.46 321.02H486.62M477.46 317.58H486.62M477.46 314.14H486.62M477.46 310.7H486.62M477.46 307.26H486.62M477.46 303.82H486.62M477.46 300.38H486.62M477.46 296.94H486.62M477.46 293.5H486.62M477.46 290.06H486.62M477.46 286.62H486.62M477.46 283.18H486.62M477.46 279.74H486.62M477.46 276.3H486.62M477.46 272.86H486.62M477.46 269.42H486.62M495.37 327.23V381.25M498.42 327.23V381.25M492.32 379.5H501.48M492.32 376.06H501.48M492.32 372.62H501.48M492.32 369.18H501.48M492.32 365.74H501.48M492.32 362.3H501.48M492.32 358.86H501.48M492.32 355.42H501.48M492.32 351.98H501.48M492.32 348.54H501.48M492.32 345.1H501.48M492.32 341.66H501.48M492.32 338.22H501.48M492.32 334.78H501.48M492.32 331.34H501.48M492.32 327.9H501.48" stroke="#222" stroke-width="1.15" fill="none"/><rect x="328.85" y="372.35" width="9.15" height="8.9" fill="none" stroke="#111" stroke-width="1.1"/><rect x="343.71" y="371.08" width="9.15" height="10.17" fill="none" stroke="#111" stroke-width="1.1"/><rect x="358.58" y="368.54" width="9.15" height="12.71" fill="none" stroke="#111" stroke-width="1.1"/><rect x="373.44" y="367.9" width="9.15" height="13.35" fill="none" stroke="#111" stroke-width="1.1"/><rect x="388.3" y="364.09" width="9.15" height="17.16" fill="none" stroke="#111" stroke-width="1.1"/><rect x="403.16" y="347.25" width="9.15" height="34" fill="none" stroke="#111" stroke-width="1.1"/><rect x="418.02" y="351.22" width="9.15" height="30.03" fill="none" stroke="#111" stroke-width="1.1"/><rect x="432.88" y="337.4" width="9.15" height="43.85" fill="none" stroke="#111" stroke-width="1.1"/><rect x="447.74" y="251.6" width="9.15" height="129.65" fill="none" stroke="#111" stroke-width="1.1"/><rect x="462.6" y="285.92" width="9.15" height="95.33" fill="none" stroke="#111" stroke-width="1.1"/><rect x="477.46" y="266.22" width="9.15" height="115.03" fill="none" stroke="#111" stroke-width="1.1"/><rect x="492.32" y="327.23" width="9.15" height="54.02" fill="none" stroke="#111" stroke-width="1.1"/><rect x="318.57" y="222.37" width="193.19" height="187.53" fill="none" stroke="#151515" stroke-width="1.3"/><path d="M318.57 381.25H511.76" stroke="#151515" stroke-width="1.2"/><path d="M318.57 409.9V416.5M333.43 409.9V416.5M348.29 409.9V416.5M363.15 409.9V416.5M378.01 409.9V416.5M392.87 409.9V416.5M407.73 409.9V416.5M422.6 409.9V416.5M437.46 409.9V416.5M452.32 409.9V416.5M467.18 409.9V416.5M482.04 409.9V416.5M496.9 409.9V416.5M511.76 409.9V416.5M511.76 409.9V416.5" stroke="#151515" stroke-width="1.2"/><path d="M318.57 406.67H322.17M511.76 406.67H508.16M318.57 400.32H322.17M511.76 400.32H508.16M318.57 393.96H322.17M511.76 393.96H508.16M318.57 387.61H322.17M511.76 387.61H508.16M318.57 381.25H325.27M511.76 381.25H505.06M318.57 374.89H322.17M511.76 374.89H508.16M318.57 368.54H322.17M511.76 368.54H508.16M318.57 362.18H322.17M511.76 362.18H508.16M318.57 355.83H322.17M511.76 355.83H508.16M318.57 349.47H325.27M511.76 349.47H505.06M318.57 343.12H322.17M511.76 343.12H508.16M318.57 336.76H322.17M511.76 336.76H508.16M318.57 330.41H322.17M511.76 330.41H508.16M318.57 324.05H322.17M511.76 324.05H508.16M318.57 317.7H325.27M511.76 317.7H505.06M318.57 311.34H322.17M511.76 311.34H508.16M318.57 304.99H322.17M511.76 304.99H508.16M318.57 298.63H322.17M511.76 298.63H508.16M318.57 292.28H322.17M511.76 292.28H508.16M318.57 285.92H325.27M511.76 285.92H505.06M318.57 279.57H322.17M511.76 279.57H508.16M318.57 273.21H322.17M511.76 273.21H508.16M318.57 266.86H322.17M511.76 266.86H508.16M318.57 260.5H322.17M511.76 260.5H508.16M318.57 254.15H325.27M511.76 254.15H505.06M318.57 247.79H322.17M511.76 247.79H508.16M318.57 241.44H322.17M511.76 241.44H508.16M318.57 235.08H322.17M511.76 235.08H508.16M318.57 228.73H322.17M511.76 228.73H508.16" stroke="#151515" stroke-width="1.1"/><text transform="translate(311.83,385.6) scale(1,1.05)" text-anchor="end" font-size="12" fill="#111">0</text><text transform="translate(311.83,353.82) scale(1,1.05)" text-anchor="end" font-size="12" fill="#111">1</text><text transform="translate(311.83,322.05) scale(1,1.05)" text-anchor="end" font-size="12" fill="#111">2</text><text transform="translate(311.83,290.27) scale(1,1.05)" text-anchor="end" font-size="12" fill="#111">3</text><text transform="translate(311.83,258.5) scale(1,1.05)" text-anchor="end" font-size="12" fill="#111">4</text><text transform="translate(311.83,226.72) scale(1,1.05)" text-anchor="end" font-size="12" fill="#111">5</text><text transform="translate(329.25,250.13) scale(1,1.02)" font-size="16" font-weight="bold" fill="#000" stroke="none" xml:space="preserve">D.  Monocytes</text><text transform="translate(295.04,316.32) rotate(-90) scale(1.05,1)" text-anchor="middle" font-size="12" fill="#111">Absolute monocyte count x 10<tspan font-size="8" dy="-6.3">3</tspan><tspan dy="6.3">/μl</tspan></text></g>
<g><text transform="translate(69.26,421.39) rotate(-90) scale(1.05,1)" text-anchor="end" font-size="12" fill="#111">Control</text><text transform="translate(83.99,421.38) rotate(-90) scale(1.05,1)" text-anchor="end" font-size="12" fill="#111">FL(10)</text><text transform="translate(98.73,421.36) rotate(-90) scale(1.05,1)" text-anchor="end" font-size="12" fill="#111">FL(50)</text><text transform="translate(113.46,421.35) rotate(-90) scale(1.05,1)" text-anchor="end" font-size="12" fill="#111">FL(100)</text><text transform="translate(128.19,421.33) rotate(-90) scale(1.05,1)" text-anchor="end" font-size="12" fill="#111">G(10)</text><text transform="translate(142.92,421.32) rotate(-90) scale(1.05,1)" text-anchor="end" font-size="12" fill="#111">G(50)</text><text transform="translate(157.66,421.3) rotate(-90) scale(1.05,1)" text-anchor="end" font-size="12" fill="#111">G(100)</text><text transform="translate(172.39,421.29) rotate(-90) scale(1.05,1)" text-anchor="end" font-size="12" fill="#111">G(100)+FL(10)</text><text transform="translate(187.12,421.27) rotate(-90) scale(1.05,1)" text-anchor="end" font-size="12" fill="#111">G(100) + FL (50</text><text transform="translate(201.85,421.26) rotate(-90) scale(1.05,1)" text-anchor="end" font-size="12" fill="#111">G(100) + FL(100</text><text transform="translate(216.59,421.24) rotate(-90) scale(1.05,1)" text-anchor="end" font-size="12" fill="#111">G(50) + FL(100)</text><text transform="translate(231.32,421.23) rotate(-90) scale(1.05,1)" text-anchor="end" font-size="12" fill="#111">G(10) + FL(100)</text></g>
<g><text transform="translate(337.58,423.12) rotate(-90) scale(1.05,1)" text-anchor="end" font-size="12" fill="#111">Control</text><text transform="translate(352.44,423.11) rotate(-90) scale(1.05,1)" text-anchor="end" font-size="12" fill="#111">FL(10)</text><text transform="translate(367.3,423.09) rotate(-90) scale(1.05,1)" text-anchor="end" font-size="12" fill="#111">FL(50)</text><text transform="translate(382.16,423.08) rotate(-90) scale(1.05,1)" text-anchor="end" font-size="12" fill="#111">FL(100)</text><text transform="translate(397.02,423.06) rotate(-90) scale(1.05,1)" text-anchor="end" font-size="12" fill="#111">G(10)</text><text transform="translate(411.88,423.05) rotate(-90) scale(1.05,1)" text-anchor="end" font-size="12" fill="#111">G(50)</text><text transform="translate(426.75,423.03) rotate(-90) scale(1.05,1)" text-anchor="end" font-size="12" fill="#111">G(100)</text><text transform="translate(441.61,423.02) rotate(-90) scale(1.05,1)" text-anchor="end" font-size="12" fill="#111">G(100)+FL(10)</text><text transform="translate(456.47,423) rotate(-90) scale(1.05,1)" text-anchor="end" font-size="12" fill="#111">G(100) + FL (50</text><text transform="translate(471.33,422.99) rotate(-90) scale(1.05,1)" text-anchor="end" font-size="12" fill="#111">G(100) + FL(100</text><text transform="translate(486.19,422.97) rotate(-90) scale(1.05,1)" text-anchor="end" font-size="12" fill="#111">G(50) + FL(100)</text><text transform="translate(501.05,422.96) rotate(-90) scale(1.05,1)" text-anchor="end" font-size="12" fill="#111">G(10) + FL(100)</text></g>
</g></svg></body></html>
